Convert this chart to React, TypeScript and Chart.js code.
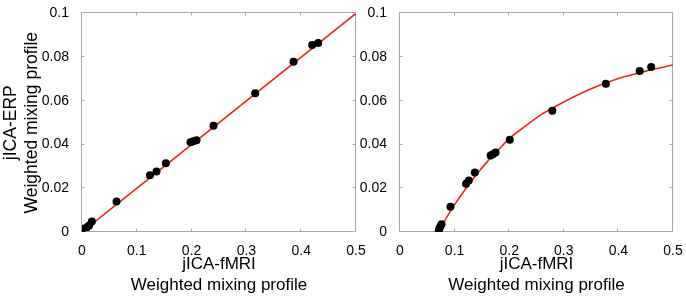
import React, { useEffect, useRef } from "react";
import { Chart, registerables } from "chart.js";

Chart.register(...registerables);

// ---- data ----
const xTickValues = [0, 0.1, 0.2, 0.3, 0.4, 0.5];
const xTickLabels = ["0", "0.1", "0.2", "0.3", "0.4", "0.5"];
const yTickValues = [0, 0.02, 0.04, 0.06, 0.08, 0.1];
const yTickLabels = ["0", "0.02", "0.04", "0.06", "0.08", "0.1"];

const leftPointsX = [0.001, 0.009, 0.013, 0.018, 0.063, 0.124, 0.136, 0.153, 0.198, 0.203, 0.209, 0.24, 0.316, 0.386, 0.42, 0.431];
const leftPointsY = [0.0015, 0.0022, 0.003, 0.0048, 0.014, 0.026, 0.0277, 0.0315, 0.041, 0.0415, 0.042, 0.0486, 0.0635, 0.0779, 0.0855, 0.0865];
const leftFitX = [0, 0.5];
const leftFitY = [0, 0.1];

const rightPointsX = [0.071, 0.072, 0.074, 0.076, 0.0925, 0.121, 0.126, 0.137, 0.166, 0.17, 0.175, 0.201, 0.279, 0.377, 0.439, 0.46];
const rightPointsY = [0.0005, 0.0015, 0.0025, 0.0035, 0.0116, 0.0221, 0.0236, 0.0272, 0.035, 0.0356, 0.0364, 0.0422, 0.0555, 0.0678, 0.0737, 0.0755];
const rightFitX = [0.069, 0.08, 0.09, 0.1, 0.12, 0.14, 0.16, 0.18, 0.2, 0.23, 0.26, 0.3, 0.35, 0.4, 0.45, 0.5];
const rightFitY = [0, 0.0044, 0.0085, 0.0125, 0.0197, 0.0263, 0.0322, 0.0375, 0.0427, 0.0485, 0.0539, 0.0595, 0.0655, 0.0702, 0.0736, 0.0764];

const xTitleLines = ["jICA-fMRI", "Weighted mixing profile"];
const yTitleLines = ["jICA-ERP", "Weighted mixing profile"];

// ---- styles ----
const FONT = "'Liberation Sans', Arial, Helvetica, sans-serif";
const AXIS_COLOR = "#a8a8a8";
const FIT_COLOR = "#e42a18";
const POINT_COLOR = "#000000";
const TICK_LEN = 3;

const boxPlugin = {
  id: "matlabBox",
  beforeDatasetsDraw(chart: any) {
    const { ctx, chartArea: a, scales } = chart;
    const l = Math.round(a.left) - 0.5;
    const r = Math.round(a.right) - 0.5;
    const t = Math.round(a.top) - 0.5;
    const b = Math.round(a.bottom) - 0.5;
    ctx.save();
    ctx.strokeStyle = AXIS_COLOR;
    ctx.lineWidth = 1;
    ctx.beginPath();
    ctx.rect(l, t, r - l, b - t);
    const xs = scales.x;
    const ys = scales.y;
    xs.ticks.forEach((tk: any) => {
      const px = Math.round(xs.getPixelForValue(tk.value)) - 0.5;
      ctx.moveTo(px, b);
      ctx.lineTo(px, b - TICK_LEN);
      ctx.moveTo(px, t);
      ctx.lineTo(px, t + TICK_LEN);
    });
    ys.ticks.forEach((tk: any) => {
      const py = Math.round(ys.getPixelForValue(tk.value)) - 0.5;
      ctx.moveTo(l, py);
      ctx.lineTo(l + TICK_LEN, py);
      ctx.moveTo(r, py);
      ctx.lineTo(r - TICK_LEN, py);
    });
    ctx.stroke();
    ctx.restore();
  },
};

type PanelProps = {
  left: number;
  width: number;
  yAxisWidth: number;
  topPad: number;
  rightPad: number;
  pointsX: number[];
  pointsY: number[];
  fitX: number[];
  fitY: number[];
  showYTitle: boolean;
  curved: boolean;
};

function Panel(p: PanelProps) {
  const ref = useRef<HTMLCanvasElement>(null);
  useEffect(() => {
    if (!ref.current) return;
    const chart = new Chart(ref.current, {
      type: "scatter",
      data: {
        datasets: [
          {
            type: "scatter",
            data: p.pointsX.map((x, i) => ({ x, y: p.pointsY[i] })),
            backgroundColor: POINT_COLOR,
            borderColor: POINT_COLOR,
            borderWidth: 0,
            pointRadius: 4,
            order: 0,
          },
          {
            type: "line",
            data: p.fitX.map((x, i) => ({ x, y: p.fitY[i] })),
            borderColor: FIT_COLOR,
            borderWidth: 1.6,
            pointRadius: 0,
            fill: false,
            cubicInterpolationMode: p.curved ? "monotone" : "default",
            tension: 0,
            order: 1,
          } as any,
        ],
      },
      options: {
        animation: false,
        responsive: false,
        devicePixelRatio: 1,
        layout: { padding: { left: 0, right: p.rightPad, top: p.topPad, bottom: 0 } },
        plugins: { legend: { display: false }, tooltip: { enabled: false } },
        scales: {
          x: {
            type: "linear",
            min: 0,
            max: 0.5,
            grid: { display: false },
            border: { display: false },
            afterBuildTicks: (s: any) => {
              s.ticks = xTickValues.map((v) => ({ value: v }));
            },
            afterFit: (s: any) => {
              s.height = 68;
            },
            ticks: {
              padding: 3,
              color: "#000",
              font: { family: FONT, size: 14 },
              maxRotation: 0,
              callback: (_v: any, i: number) => xTickLabels[i],
            },
            title: {
              display: true,
              text: xTitleLines,
              color: "#000",
              font: { family: FONT, size: 17, lineHeight: 1.24 },
              padding: { top: 0, bottom: 4.5 },
            },
          },
          y: {
            type: "linear",
            min: 0,
            max: 0.1,
            grid: { display: false },
            border: { display: false },
            afterBuildTicks: (s: any) => {
              s.ticks = yTickValues.map((v) => ({ value: v }));
            },
            afterFit: (s: any) => {
              s.width = p.yAxisWidth;
            },
            ticks: {
              padding: 5,
              color: "#000",
              font: { family: FONT, size: 14 },
              callback: (_v: any, i: number) => yTickLabels[i],
            },
            title: {
              display: p.showYTitle,
              text: yTitleLines,
              color: "#000",
              font: { family: FONT, size: 17.5, lineHeight: 1.15 },
              padding: { top: 1.5, bottom: 0 },
            },
          },
        },
      },
      plugins: [boxPlugin],
    } as any);
    return () => chart.destroy();
  }, []);
  return (
    <div style={{ position: "absolute", left: p.left, top: 0, width: p.width, height: 300 }}>
      <canvas ref={ref} width={p.width} height={300} style={{ width: p.width, height: 300, display: "block" }} />
    </div>
  );
}

export default function App() {
  return (
    <div style={{ position: "fixed", left: 0, top: 0, width: 686, height: 300, background: "#fff", overflow: "hidden" }}>
      <Panel
        left={0}
        width={376}
        yAxisWidth={82}
        topPad={9}
        rightPad={20}
        pointsX={leftPointsX}
        pointsY={leftPointsY}
        fitX={leftFitX}
        fitY={leftFitY}
        showYTitle={true}
        curved={false}
      />
      <Panel
        left={340}
        width={346}
        yAxisWidth={60}
        topPad={10}
        rightPad={13}
        pointsX={rightPointsX}
        pointsY={rightPointsY}
        fitX={rightFitX}
        fitY={rightFitY}
        showYTitle={false}
        curved={true}
      />
    </div>
  );
}
